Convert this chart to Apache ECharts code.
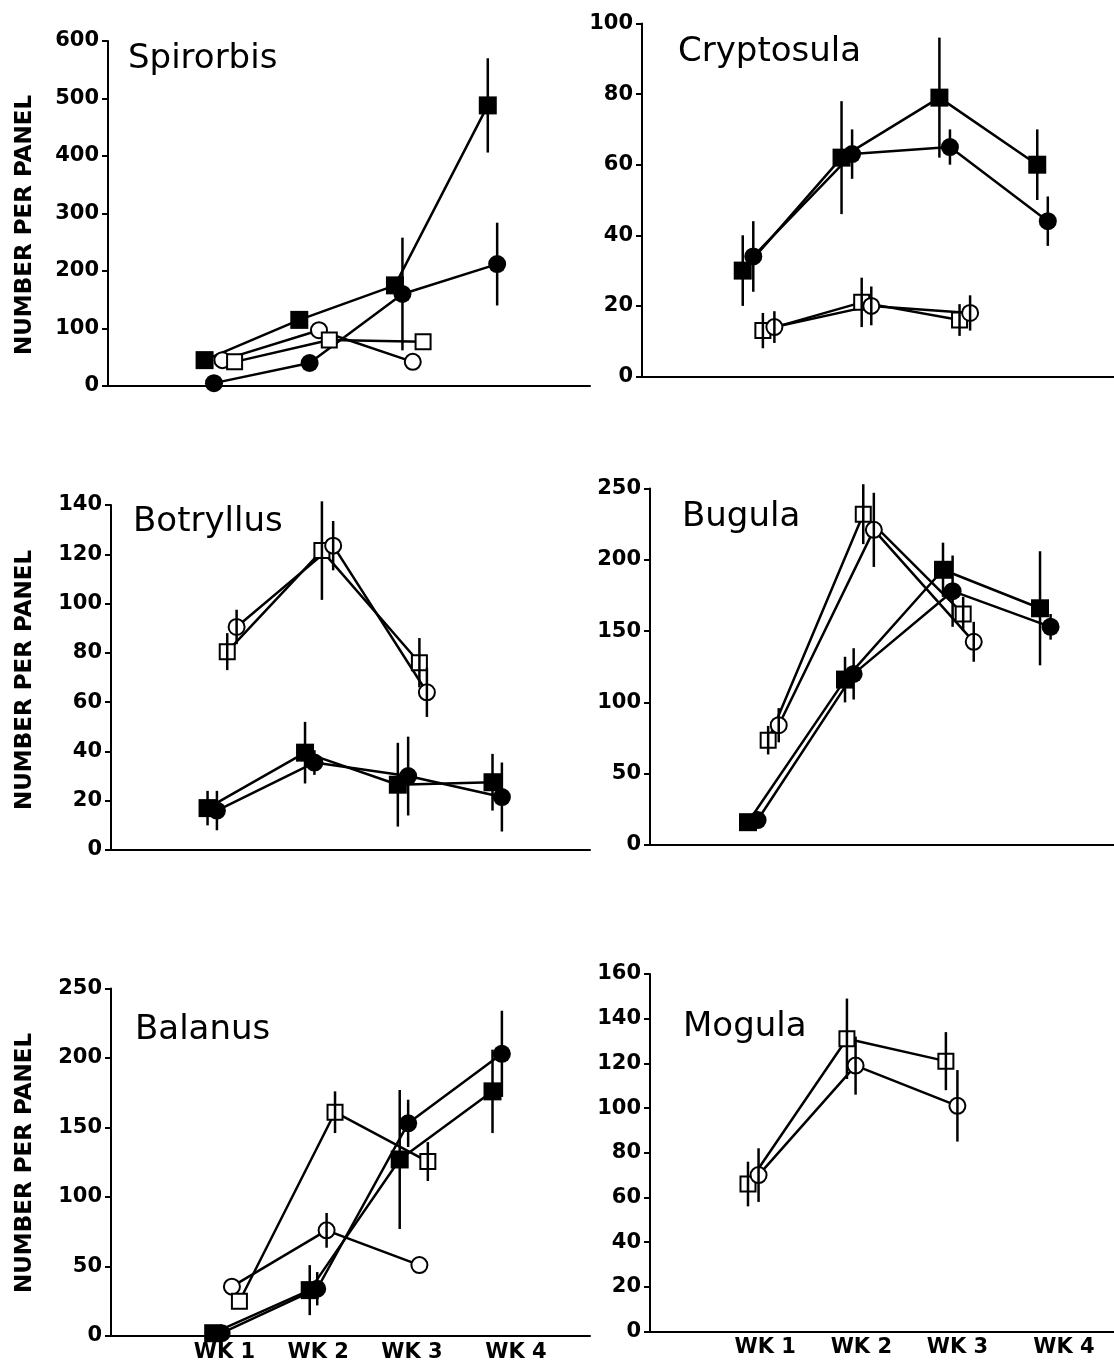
<!DOCTYPE html>
<html>
<head>
<meta charset="utf-8">
<title>Recruitment per panel</title>
<script src="https://cdn.jsdelivr.net/npm/echarts@6/dist/echarts.min.js"></script>
<style>
  html, body { margin: 0; padding: 0; background: #fff; }
  #chart { width: 1114px; height: 1366px; }
</style>
</head>
<body>
<div id="chart"></div>
<script>
// Each point: [week, mean number per panel, standard error]
const weekTicks = [1, 2, 3, 4];
const yAxisTitle = 'NUMBER PER PANEL';

const spirorbisSolidSquare = [[0.79, 45, 0], [1.80, 115, 0], [2.82, 175, 0], [3.81, 488, 82]];
const spirorbisSolidCircle = [[0.89, 5, 0], [1.91, 40, 0], [2.90, 160, 98], [3.91, 212, 72]];
const spirorbisOpenCircle  = [[0.98, 45, 0], [2.01, 97, 0], [3.01, 42, 0]];
const spirorbisOpenSquare  = [[1.11, 42, 0], [2.12, 80, 0], [3.12, 77, 0]];

const cryptosulaSolidSquare = [[0.77, 30, 10], [1.80, 62, 16], [2.82, 79, 17], [3.84, 60, 10]];
const cryptosulaSolidCircle = [[0.88, 34, 10], [1.91, 63, 7], [2.93, 65, 5], [3.95, 44, 7]];
const cryptosulaOpenSquare  = [[0.98, 13, 5], [2.01, 21, 7], [3.03, 16, 4.5]];
const cryptosulaOpenCircle  = [[1.10, 14, 4.5], [2.11, 20, 5.5], [3.14, 18, 5]];

const botryllusSolidSquare = [[0.82, 17, 7], [1.86, 39.5, 12.5], [2.85, 26.5, 17], [3.86, 27.5, 11.5]];
const botryllusSolidCircle = [[0.92, 16, 8], [1.96, 35.5, 5], [2.96, 30, 16], [3.96, 21.5, 14]];
const botryllusOpenSquare  = [[1.03, 80.5, 7.5], [2.04, 121.5, 20], [3.08, 76, 10]];
const botryllusOpenCircle  = [[1.13, 90.5, 7], [2.16, 123.5, 10], [3.16, 64, 10]];

const bugulaSolidSquare = [[0.82, 16, 5], [1.83, 116, 16], [2.85, 193, 19], [3.86, 166, 40]];
const bugulaSolidCircle = [[0.92, 17.5, 5], [1.92, 120, 18], [2.95, 178, 25], [3.97, 153, 9]];
const bugulaOpenSquare  = [[1.03, 73.5, 10], [2.02, 232, 21], [3.06, 162, 12]];
const bugulaOpenCircle  = [[1.14, 84, 12], [2.13, 221, 26], [3.17, 142.5, 14]];

const balanusSolidSquare = [[0.88, 2, 0], [1.91, 33, 18], [2.87, 127, 50], [3.86, 176, 30]];
const balanusSolidCircle = [[0.97, 2, 0], [1.99, 34, 12], [2.96, 153, 17], [3.96, 203, 31]];
const balanusOpenCircle  = [[1.08, 35.5, 0], [2.09, 76, 12.5], [3.08, 51, 0]];
const balanusOpenSquare  = [[1.16, 25, 0], [2.18, 161, 15], [3.17, 125.5, 14]];

const mogulaOpenSquare = [[0.82, 66, 10], [1.85, 131, 18], [2.88, 121, 13]];
const mogulaOpenCircle = [[0.93, 70, 12], [1.94, 119, 13], [3.00, 101, 16]];

const yTicks = {
  spirorbis: [0, 600, 100],
  cryptosula: [0, 100, 20],
  botryllus: [0, 140, 20],
  bugula: [0, 250, 50],
  balanus: [0, 250, 50],
  mogula: [0, 160, 20]
};

const panels = [
  { name: 'Spirorbis', key: 'spirorbis', groups: [
      ['solidSquare', spirorbisSolidSquare], ['solidCircle', spirorbisSolidCircle],
      ['openCircle', spirorbisOpenCircle], ['openSquare', spirorbisOpenSquare]] },
  { name: 'Cryptosula', key: 'cryptosula', groups: [
      ['solidSquare', cryptosulaSolidSquare], ['solidCircle', cryptosulaSolidCircle],
      ['openSquare', cryptosulaOpenSquare], ['openCircle', cryptosulaOpenCircle]] },
  { name: 'Botryllus', key: 'botryllus', groups: [
      ['solidSquare', botryllusSolidSquare], ['solidCircle', botryllusSolidCircle],
      ['openSquare', botryllusOpenSquare], ['openCircle', botryllusOpenCircle]] },
  { name: 'Bugula', key: 'bugula', groups: [
      ['solidSquare', bugulaSolidSquare], ['solidCircle', bugulaSolidCircle],
      ['openSquare', bugulaOpenSquare], ['openCircle', bugulaOpenCircle]] },
  { name: 'Balanus', key: 'balanus', groups: [
      ['solidSquare', balanusSolidSquare], ['solidCircle', balanusSolidCircle],
      ['openCircle', balanusOpenCircle], ['openSquare', balanusOpenSquare]] },
  { name: 'Mogula', key: 'mogula', groups: [
      ['openSquare', mogulaOpenSquare], ['openCircle', mogulaOpenCircle]] }
];

// Page layout: plot rectangles, week range shown on each x axis, title anchor
const layout = {
  spirorbis:  { left: 108, top: 41,    width: 482, height: 345,   xMin: -0.24, xMax: 4.90, title: [128, 59],  weekLabels: false, yName: 225 },
  cryptosula: { left: 642, top: 23.5,  width: 472, height: 353,   xMin: -0.28, xMax: 4.64, title: [678, 52],  weekLabels: false },
  botryllus:  { left: 111, top: 505,   width: 479, height: 345,   xMin: -0.21, xMax: 4.90, title: [133, 522], weekLabels: false, yName: 680 },
  bugula:     { left: 650, top: 488.5, width: 464, height: 356.5, xMin: -0.20, xMax: 4.63, title: [682, 517], weekLabels: false },
  balanus:    { left: 111, top: 988.5, width: 479, height: 347.5, xMin: -0.21, xMax: 4.90, title: [135, 1030], weekLabels: true, yName: 1163 },
  mogula:     { left: 650, top: 974,   width: 464, height: 357.5, xMin: -0.20, xMax: 4.63, title: [683, 1027], weekLabels: true }
};
// where each week caption sits along the axis (the last one is set a little right)
const weekLabelAt = [1, 2, 3, 4.11];

const markerStyles = {
  solidSquare: { symbol: 'rect',   symbolSize: 18, itemStyle: { color: '#000', borderColor: '#000', borderWidth: 0 } },
  solidCircle: { symbol: 'circle', symbolSize: 18, itemStyle: { color: '#000', borderColor: '#000', borderWidth: 0 } },
  openSquare:  { symbol: 'rect',   symbolSize: 15, itemStyle: { color: '#fff', borderColor: '#000', borderWidth: 2 } },
  openCircle:  { symbol: 'circle', symbolSize: 16, itemStyle: { color: '#fff', borderColor: '#000', borderWidth: 2 } }
};

const tickFont = '"DejaVu Sans", "Liberation Sans", sans-serif';
const titleFont = '"DejaVu Sans", sans-serif';

const grid = [], xAxis = [], yAxis = [], series = [], graphic = [];

panels.forEach((p, i) => {
  const L = layout[p.key];
  const [yMin, yMax, yStep] = yTicks[p.key];
  grid.push({ left: L.left, top: L.top, width: L.width, height: L.height, containLabel: false });

  xAxis.push({
    type: 'value', gridIndex: i, min: L.xMin, max: L.xMax,
    axisLine: { show: true, onZero: false, lineStyle: { color: '#000', width: 2 } },
    axisTick: { show: false },
    splitLine: { show: false },
    axisLabel: L.weekLabels ? {
      show: true, customValues: weekLabelAt,
      formatter: v => 'WK ' + weekTicks[weekLabelAt.indexOf(v)],
      color: '#000', fontFamily: tickFont, fontWeight: 'bold', fontSize: 21, margin: 6
    } : { show: false }
  });

  yAxis.push({
    type: 'value', gridIndex: i, min: yMin, max: yMax, interval: yStep,
    axisLine: { show: true, onZero: false, lineStyle: { color: '#000', width: 2 } },
    axisTick: { show: true, length: 6, lineStyle: { color: '#000', width: 2 } },
    splitLine: { show: false },
    axisLabel: { color: '#000', fontFamily: tickFont, fontWeight: 'bold', fontSize: 21, margin: 9 }
  });

  p.groups.forEach(([kind, pts]) => {
    const m = markerStyles[kind];
    series.push({
      type: 'line', xAxisIndex: i, yAxisIndex: i,
      data: pts.map(d => [d[0], d[1]]),
      symbol: m.symbol, symbolSize: m.symbolSize, showSymbol: true,
      itemStyle: m.itemStyle,
      lineStyle: { color: '#000', width: 2.5 },
      z: 2, animation: false, silent: true
    });
  });

  // vertical standard-error bars, drawn through the markers
  p.groups.forEach(([kind, pts]) => {
    series.push({
      type: 'custom', xAxisIndex: i, yAxisIndex: i,
      data: pts.filter(d => d[2] > 0),
      encode: { x: 0, y: 1 },
      renderItem: (params, api) => {
        const x = api.value(0), y = api.value(1), e = api.value(2);
        const hi = api.coord([x, y + e]);
        const lo = api.coord([x, y - e]);
        return {
          type: 'line',
          shape: { x1: hi[0], y1: hi[1], x2: lo[0], y2: lo[1] },
          style: { stroke: '#000', lineWidth: 2.5 }
        };
      },
      z: 3, animation: false, silent: true
    });
  });

  graphic.push({
    type: 'text', x: L.title[0], y: L.title[1],
    style: { text: p.name, font: '34px ' + titleFont, fill: '#000', textAlign: 'left', textVerticalAlign: 'middle' }
  });

  if (L.yName) {
    graphic.push({
      type: 'text', x: 25, y: L.yName, rotation: Math.PI / 2,
      style: { text: yAxisTitle, font: 'bold 23px ' + tickFont, fill: '#000', textAlign: 'center', textVerticalAlign: 'middle' }
    });
  }
});

const chart = echarts.init(document.getElementById('chart'), null, { renderer: 'canvas' });
chart.setOption({
  backgroundColor: '#fff',
  animation: false,
  grid, xAxis, yAxis, series, graphic
});
</script>
</body>
</html>
